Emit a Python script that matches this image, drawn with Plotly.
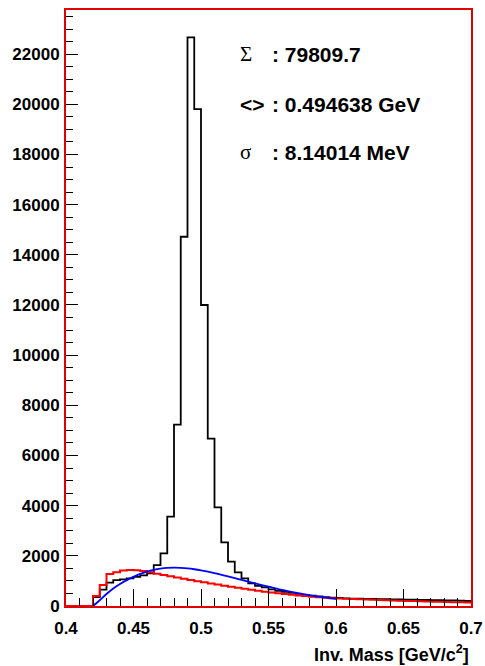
import numpy as np
import plotly.graph_objects as go

# ---------------- data ----------------
bin_edges = np.round(np.linspace(0.4, 0.7, 61), 4)

black_counts = [0, 0, 0, 0, 350, 650, 930, 1030, 1060, 1100,
                1160, 1220, 1300, 1630, 2100, 3560, 7230, 14720, 22670, 19810,
                12000, 6670, 3930, 2540, 1770, 1340, 1100, 900, 800, 740,
                660, 600, 560, 520, 480, 440, 410, 380, 350, 330,
                320, 300, 290, 290, 280, 280, 270, 270, 260, 260,
                250, 250, 240, 240, 230, 230, 220, 220, 210, 200]

red_counts = [0, 0, 0, 0, 400, 840, 1280, 1350, 1420, 1440,
              1430, 1400, 1350, 1290, 1240, 1190, 1140, 1090, 1040, 990,
              950, 900, 860, 810, 770, 730, 690, 650, 610, 570,
              540, 510, 480, 450, 420, 400, 370, 350, 330, 310,
              300, 290, 280, 270, 260, 250, 240, 230, 220, 210,
              200, 195, 185, 180, 170, 165, 160, 150, 145, 140]

blue_x = [0.420, 0.425, 0.430, 0.435, 0.440, 0.445, 0.450, 0.455, 0.460, 0.465,
          0.470, 0.475, 0.480, 0.485, 0.490, 0.495, 0.500, 0.510, 0.520, 0.530,
          0.540, 0.550, 0.560, 0.570, 0.580, 0.590, 0.600]
blue_y = [0, 230, 480, 700, 880, 1030, 1160, 1280, 1370, 1440,
          1490, 1520, 1530, 1520, 1500, 1465, 1420, 1310, 1180, 1040,
          900, 770, 640, 530, 430, 350, 280]

x_tick_vals = [0.4, 0.45, 0.5, 0.55, 0.6, 0.65, 0.7]
x_tick_text = ["0.4", "0.45", "0.5", "0.55", "0.6", "0.65", "0.7"]
y_tick_vals = [0, 2000, 4000, 6000, 8000, 10000, 12000, 14000, 16000, 18000, 20000, 22000]
y_tick_text = [str(v) for v in y_tick_vals]

stat_symbols = ["Σ", "&lt;&gt;", "σ"]
stat_symbol_serif = [True, False, True]
stat_values = [": 79809.7", ": 0.494638 GeV", ": 8.14014 MeV"]

x_title = "Inv. Mass [GeV/c<sup>2</sup>]"

# ---------------- figure ----------------
SANS = "Liberation Sans, Arial, Helvetica, sans-serif"
SERIF = "Liberation Serif, Times New Roman, serif"

fig = go.Figure()

fig.add_trace(go.Scatter(
    x=bin_edges, y=black_counts + [black_counts[-1]],
    mode="lines", line=dict(color="black", width=1.8, shape="hv"),
    hoverinfo="skip", showlegend=False))

fig.add_trace(go.Scatter(
    x=bin_edges, y=red_counts + [red_counts[-1]],
    mode="lines", line=dict(color="#ff0000", width=2, shape="hv"),
    hoverinfo="skip", showlegend=False))

fig.add_trace(go.Scatter(
    x=blue_x, y=blue_y,
    mode="lines", line=dict(color="#0000ff", width=1.8, shape="spline", smoothing=0.8),
    hoverinfo="skip", showlegend=False))

W, H = 485, 666
L, R, T, B = 66, 14, 10, 60
pw, ph = W - L - R, H - T - B


def px_to_paper(px, py):
    return (px - L) / pw, (H - B - py) / ph


stat_rows_y = [54, 104, 152]
for sym, serif, val, py in zip(stat_symbols, stat_symbol_serif, stat_values, stat_rows_y):
    sx, sy = px_to_paper(238, py)
    fig.add_annotation(
        x=sx, y=sy, xref="paper", yref="paper", xanchor="left", yanchor="middle",
        text=sym, showarrow=False,
        font=dict(family=SERIF if serif else SANS, size=21, color="black",
                  weight="normal" if serif else "bold"))
    vx, _ = px_to_paper(270, py)
    fig.add_annotation(
        x=vx, y=sy, xref="paper", yref="paper", xanchor="left", yanchor="middle",
        text=val, showarrow=False,
        font=dict(family=SANS, size=21, color="black", weight="bold"))

fig.add_annotation(
    x=1, y=0, xref="paper", yref="paper", xanchor="right", yanchor="middle",
    yshift=-47, text=x_title, showarrow=False,
    font=dict(family=SANS, size=18, color="black", weight="bold"))

axis_common = dict(
    showgrid=False, zeroline=False, automargin=False,
    showline=True, linecolor="#e00000", linewidth=2, mirror=True,
    ticks="inside", tickcolor="black", tickwidth=1,
    tickfont=dict(family=SANS, size=17, color="black", weight="bold"),
)

fig.update_xaxes(
    range=[0.4, 0.7], tickmode="array", tickvals=x_tick_vals, ticktext=x_tick_text,
    ticklen=17, ticklabelstandoff=6,
    minor=dict(tick0=0.4, dtick=0.01, ticks="inside", ticklen=8, tickcolor="black", tickwidth=1),
    **axis_common)

fig.update_yaxes(
    range=[0, 23760], tickmode="array", tickvals=y_tick_vals, ticktext=y_tick_text,
    ticklen=12, ticklabelstandoff=1,
    minor=dict(tick0=0, dtick=500, ticks="inside", ticklen=7, tickcolor="black", tickwidth=1),
    **axis_common)

fig.update_layout(
    width=W, height=H,
    margin=dict(l=L, r=R, t=T, b=B, pad=0, autoexpand=False),
    paper_bgcolor="white", plot_bgcolor="white",
    showlegend=False,
)

fig.write_html("out.html")
